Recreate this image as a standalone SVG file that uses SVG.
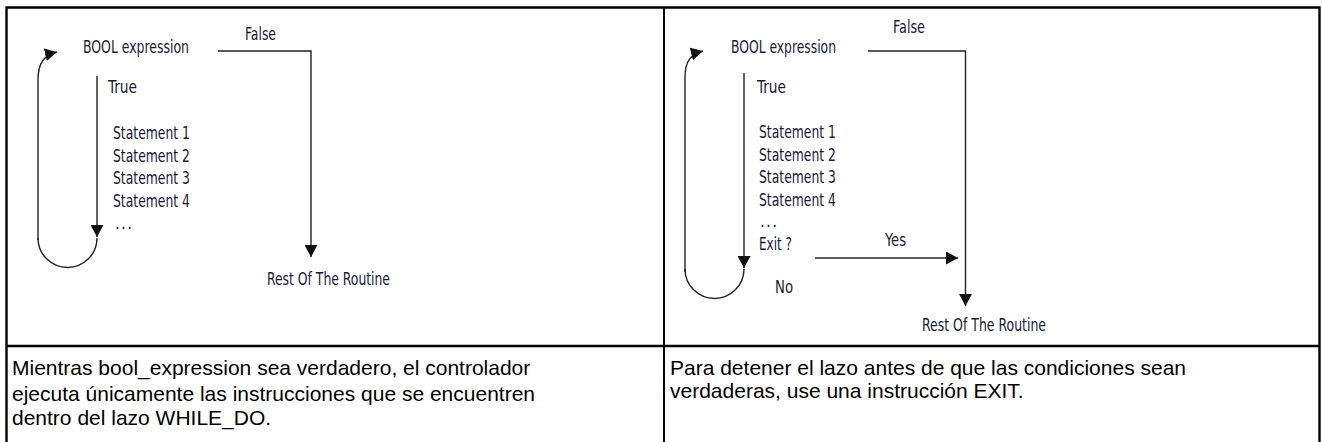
<svg xmlns="http://www.w3.org/2000/svg" width="1322" height="442" viewBox="0 0 1322 442">
<style>
.bg{fill:#fff}
.tbl{fill:none;stroke:#000;stroke-width:2.4}
.ln{fill:none;stroke:#222;stroke-width:1.4}
.lb{font-family:"Liberation Sans Narrow","DejaVu Sans Condensed","Liberation Sans",sans-serif;font-size:17px;fill:#1a1a30}
.tx{font-family:"Liberation Sans",Arial,sans-serif;font-size:21px;fill:#000}
</style>
<defs>
<marker id="ah" markerUnits="userSpaceOnUse" markerWidth="13" markerHeight="13" refX="12" refY="6.5" orient="auto">
<path d="M0,0 L12,6.5 L0,13 Z" fill="#111"/>
</marker>
</defs>
<rect class="bg" x="0" y="0" width="1322" height="442"/>
<g id="table">
<path class="tbl" d="M6.5,442 L6.5,7.5 L1319.5,7.5 L1319.5,442"/>
<path class="tbl" d="M6.5,346 L1319.5,346"/>
<path class="tbl" d="M664,7.5 L664,442" style="stroke-width:2"/>
</g>
<g id="connectors">
<path class="ln" d="M38,240 L38,80 C38,63 44,55 57,52" marker-end="url(#ah)"/>
<path class="ln" d="M97,76 L97,237" marker-end="url(#ah)"/>
<path class="ln" d="M38,238 A29.5,29.5 0 0 0 97,238"/>
<path class="ln" d="M218,51 L311,51 L311,257" marker-end="url(#ah)"/>
<path class="ln" d="M685,272 L685,77 C685,61 691,54 703,51" marker-end="url(#ah)"/>
<path class="ln" d="M744,73 L744,268" marker-end="url(#ah)"/>
<path class="ln" d="M685,269 A29.5,29.5 0 0 0 744,269"/>
<path class="ln" d="M868,51 L965.5,51 L965.5,306" marker-end="url(#ah)"/>
<path class="ln" d="M815,258 L958,258" marker-end="url(#ah)"/>
</g>
<g id="left-diagram">
<text class="lb" x="83" y="53" textLength="106" lengthAdjust="spacingAndGlyphs">BOOL expression</text>
<text class="lb" x="245" y="40" textLength="31" lengthAdjust="spacingAndGlyphs">False</text>
<text class="lb" x="108" y="93" textLength="29" lengthAdjust="spacingAndGlyphs">True</text>
<text class="lb" x="113" y="139" textLength="77" lengthAdjust="spacingAndGlyphs">Statement 1</text>
<text class="lb" x="113" y="161.5" textLength="77" lengthAdjust="spacingAndGlyphs">Statement 2</text>
<text class="lb" x="113" y="184" textLength="77" lengthAdjust="spacingAndGlyphs">Statement 3</text>
<text class="lb" x="113" y="206.5" textLength="77" lengthAdjust="spacingAndGlyphs">Statement 4</text>
<text class="lb" x="115" y="229" textLength="17" lengthAdjust="spacing">...</text>
<text class="lb" x="267" y="285" textLength="123" lengthAdjust="spacingAndGlyphs">Rest Of The Routine</text>
</g>
<g id="right-diagram">
<text class="lb" x="731" y="53" textLength="105" lengthAdjust="spacingAndGlyphs">BOOL expression</text>
<text class="lb" x="893" y="33" textLength="32" lengthAdjust="spacingAndGlyphs">False</text>
<text class="lb" x="757" y="93" textLength="29" lengthAdjust="spacingAndGlyphs">True</text>
<text class="lb" x="759" y="138" textLength="77" lengthAdjust="spacingAndGlyphs">Statement 1</text>
<text class="lb" x="759" y="161" textLength="77" lengthAdjust="spacingAndGlyphs">Statement 2</text>
<text class="lb" x="759" y="183" textLength="77" lengthAdjust="spacingAndGlyphs">Statement 3</text>
<text class="lb" x="759" y="206" textLength="77" lengthAdjust="spacingAndGlyphs">Statement 4</text>
<text class="lb" x="760" y="227" textLength="17" lengthAdjust="spacing">...</text>
<text class="lb" x="759" y="250" textLength="33" lengthAdjust="spacingAndGlyphs">Exit ?</text>
<text class="lb" x="885" y="246" textLength="21" lengthAdjust="spacingAndGlyphs">Yes</text>
<text class="lb" x="775" y="293" textLength="18" lengthAdjust="spacingAndGlyphs">No</text>
<text class="lb" x="922" y="331" textLength="124" lengthAdjust="spacingAndGlyphs">Rest Of The Routine</text>
</g>
<g id="captions">
<text class="tx" x="12" y="375">Mientras bool_expression sea verdadero, el controlador</text>
<text class="tx" x="12" y="401">ejecuta únicamente las instrucciones que se encuentren</text>
<text class="tx" x="12" y="425">dentro del lazo WHILE_DO.</text>
<text class="tx" x="670" y="375">Para detener el lazo antes de que las condiciones sean</text>
<text class="tx" x="670" y="398">verdaderas, use una instrucción EXIT.</text>
</g>
</svg>
